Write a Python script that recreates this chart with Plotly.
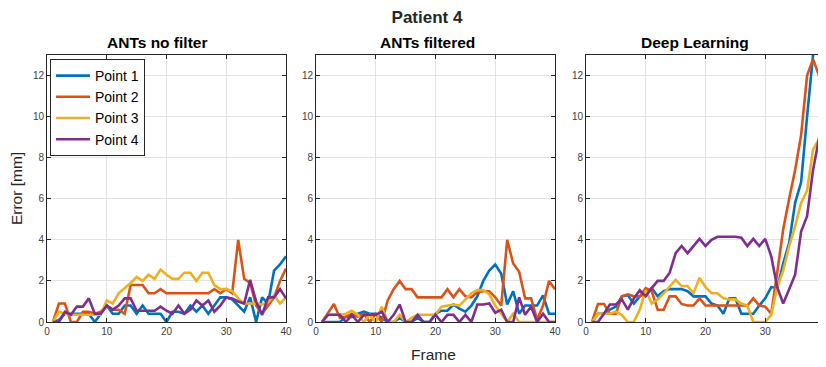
import plotly.graph_objects as go

frames = list(range(1, 41))

# ANTs no filter
nf_p1 = [0, 0.1, 0.4, 0.4, 0.4, 0.4, 0.4, 0, 0.4, 0.8, 0.4, 0.4, 0.8, 0.8, 0.4, 0.8, 0.4, 0.4, 0.4, 0,
         0.5, 0.5, 0.4, 0.8, 0.5, 0.8, 0.4, 0.8, 1.2, 1.2, 1.1, 0.8, 0.5, 1.2, 0, 1.2, 0.9, 2.5, 2.8, 3.2]
nf_p2 = [0, 0.9, 0.9, 0, 0, 0.5, 0.5, 0.4, 0.5, 0.8, 0.6, 0.6, 0.4, 1.8, 1.8, 1.8, 1.4, 1.4, 1.6, 1.4,
         1.4, 1.4, 1.4, 1.4, 1.4, 1.4, 1.4, 1.6, 1.4, 1.6, 1.4, 4.0, 2.1, 1.9, 0.8, 0.4, 0.8, 1.2, 2.0, 2.6]
nf_p3 = [0, 0.5, 0.4, 0.35, 0.35, 0.35, 0.35, 0.35, 0.35, 1.05, 0.9, 1.4, 1.65, 1.9, 2.2, 2.0, 2.3, 2.1, 2.55, 2.3,
         2.1, 2.1, 2.4, 2.4, 2.0, 2.4, 2.4, 1.8, 1.6, 1.6, 1.5, 1.15, 0.9, 0.9, 0.9, 0.85, 0.95, 1.3, 0.9, 1.2]
nf_p4 = [0, 0, 0.5, 0.35, 0.75, 0.75, 1.15, 0.4, 0.4, 0.8, 0.6, 0.8, 1.15, 1.15, 0.55, 0.55, 0.55, 0.55, 0.75, 0.55,
         0.4, 0.8, 0.4, 0.6, 1.05, 0.8, 1.05, 0.5, 0.8, 1.2, 1.15, 1.0, 0.9, 2.05, 1.0, 0.35, 1.2, 1.2, 1.6, 1.15]

# ANTs filtered
f_p1 = [0, 0, 0, 0, 0.25, 0.25, 0.4, 0.5, 0.4, 0.4, 0.2, 0, 0, 0.2, 0, 0, 0.2, 0, 0, 0.4,
        0.55, 0.55, 0.85, 0.65, 0.5, 0.8, 1.25, 2.0, 2.5, 2.8, 2.35, 0.85, 1.5, 0.4, 0.8, 0.8, 0.8, 1.3, 0.4, 0.4]
f_p2 = [0, 0.45, 0.88, 0.2, 0.25, 0.4, 0.25, 0.4, 0, 0.4, 0, 1.05, 1.6, 2.0, 1.6, 1.6, 1.2, 1.2, 1.2, 1.2,
        1.2, 1.6, 1.2, 1.6, 1.25, 1.2, 1.45, 1.5, 1.5, 1.2, 0.8, 4.0, 2.85, 2.45, 1.15, 1.15, 0.1, 0.8, 2.0, 1.6]
f_p3 = [0, 0.35, 0.35, 0.35, 0.4, 0.55, 0.35, 0, 0.35, 0, 0.75, 0, 0, 0.35, 0, 0.2, 0.35, 0.35, 0.35, 0.35,
        0.75, 0.8, 0.85, 0.8, 1.1, 1.4, 1.55, 1.55, 1.35, 0.8, 0.4, 0, 0.4, 0, 0, 0, 0, 0, 0, 0]
f_p4 = [0, 0.35, 0.35, 0.35, 0, 0.35, 0, 0.35, 0.35, 0.35, 0.5, 0, 0.35, 0.85, 0, 0, 0.35, 0, 0, 0.35,
        0, 0.35, 0.35, 0, 0.35, 0, 0.85, 0.85, 0.9, 0.45, 0.6, 0, 0, 1.2, 0.35, 0.75, 0, 0.4, 0, 0]

# Deep Learning
dl_p1 = [0, 0.4, 0.4, 0.6, 0.75, 1.25, 1.3, 0.9, 1.25, 1.4, 1.65, 1.25, 1.5, 1.6, 1.6, 1.6, 1.5, 1.25, 1.25, 1.25,
         0.9, 0.8, 0.4, 1.15, 1.15, 0.4, 0.4, 0.4, 0.8, 1.15, 1.7, 1.65, 2.85, 3.85, 5.8, 6.8, 10.0, 13.0, 13.6, 14.0]
dl_p2 = [0, 0.88, 0.88, 0.4, 0.4, 1.25, 1.35, 1.25, 1.25, 1.65, 1.5, 0.6, 0.6, 1.25, 1.25, 0.88, 0.8, 0.8, 1.15, 0.8,
         0.8, 0.8, 0.8, 0.8, 0.8, 0.8, 0.8, 1.15, 0.8, 0.75, 0.4, 2.4, 4.5, 6.0, 7.4, 9.1, 12.0, 12.8, 12.0, 12.9]
dl_p3 = [0, 0.4, 0.4, 0.4, 0.5, 0.35, 0, 0, 0.6, 1.55, 0.9, 1.1, 1.4, 1.7, 2.05, 1.75, 1.75, 1.4, 2.15, 1.7,
         1.4, 1.4, 1.15, 1.1, 1.1, 0.9, 0.8, 0, 0, 0, 0.35, 1.7, 2.5, 3.7, 4.65, 5.8, 6.4, 8.4, 8.9, 9.6]
dl_p4 = [0, 0, 0.4, 0.85, 0.85, 1.1, 0.6, 1.15, 1.55, 1.25, 1.65, 2.0, 2.0, 2.4, 3.35, 3.7, 3.35, 3.7, 4.05, 3.7,
         4.0, 4.15, 4.15, 4.15, 4.15, 4.1, 3.7, 4.05, 3.7, 4.05, 3.2, 1.7, 0.9, 1.6, 2.3, 4.4, 5.15, 7.4, 8.95, 10.75]

panel_titles = ["ANTs no filter", "ANTs filtered", "Deep Learning"]
series_names = ["Point 1", "Point 2", "Point 3", "Point 4"]
colors = ["#0072BD", "#D95319", "#EDB120", "#7E2F8E"]
panels = [[nf_p1, nf_p2, nf_p3, nf_p4], [f_p1, f_p2, f_p3, f_p4], [dl_p1, dl_p2, dl_p3, dl_p4]]
x_ticks = [0, 10, 20, 30, 40]
y_ticks = [0, 2, 4, 6, 8, 10, 12]

fig = go.Figure()
for pi, data in enumerate(panels):
    suffix = "" if pi == 0 else str(pi + 1)
    for si, ys in enumerate(data):
        fig.add_trace(go.Scatter(
            x=frames, y=ys, mode="lines", name=series_names[si],
            line=dict(color=colors[si], width=2.6),
            xaxis="x" + suffix, yaxis="y" + suffix,
            showlegend=(pi == 0),
        ))

# page body has an 8px margin, so the figure is placed at (8, 8)
OFF = 8
W, H = 826 - OFF, 367 - OFF
L = 47 - OFF
T = 55 - OFF
B = H - (322 - OFF)
R = W - (825 - OFF)
pw = W - L - R
ph = H - T - B
edges = [(47, 286), (316, 555), (586, 825)]
domains = [[(a - OFF - L) / pw, (b - OFF - L) / pw] for a, b in edges]
title_centers = [157, 427, 695]


def px(xpage):
    return (xpage - OFF - L) / pw


axis_common = dict(
    showline=True, linecolor="#262626", linewidth=1, mirror="allticks",
    ticks="inside", ticklen=4, tickcolor="#262626", automargin=False,
    showgrid=True, gridcolor="#E3E3E3", gridwidth=1, zeroline=False,
    tickfont=dict(family="Liberation Sans, Arial", size=10, color="#404040"),
)

layout = dict(
    width=W, height=H,
    margin=dict(l=L, r=R, t=T, b=B, autoexpand=False),
    paper_bgcolor="white", plot_bgcolor="white",
    font=dict(family="Liberation Sans, Arial", color="#262626"),
    title=dict(text="<b>Patient 4</b>", x=(427 - OFF) / W, xref="container", xanchor="center",
               y=1 - (17 - OFF) / H, yanchor="middle", yref="container",
               font=dict(size=17, color="#262626")),
    legend=dict(x=px(50), y=1.0 - (59 - OFF - T) / ph, xanchor="left", yanchor="top",
                bordercolor="#262626", borderwidth=1, bgcolor="white",
                font=dict(size=14, color="#000000"), tracegroupgap=0,
                itemwidth=34),
    showlegend=True,
)

annotations = []
for pi in range(3):
    suffix = "" if pi == 0 else str(pi + 1)
    xa = dict(axis_common, domain=domains[pi], range=[0, 40], tickvals=x_ticks,
              anchor="y" + suffix, ticklabeloverflow="allow")
    ya = dict(axis_common, domain=[0, 1], range=[0, 13], tickvals=y_ticks,
              anchor="x" + suffix)
    if pi == 0:
        ya["title"] = dict(text="Error [mm]", font=dict(size=15.5, color="#262626"), standoff=10)
    layout["xaxis" + suffix] = xa
    layout["yaxis" + suffix] = ya
    annotations.append(dict(
        text="<b>" + panel_titles[pi] + "</b>", x=px(title_centers[pi]), xref="paper",
        xanchor="center", y=1.0, yref="paper", yanchor="bottom", yshift=2, showarrow=False,
        font=dict(size=15.5, color="#000000"),
    ))
annotations.append(dict(
    text="Frame", x=px(433), xref="paper", xanchor="center",
    y=0, yref="paper", yanchor="middle", yshift=-(354 - 322), showarrow=False,
    font=dict(size=15.5, color="#262626"),
))
layout["annotations"] = annotations

fig.update_layout(**layout)
fig.write_html("out.html")
